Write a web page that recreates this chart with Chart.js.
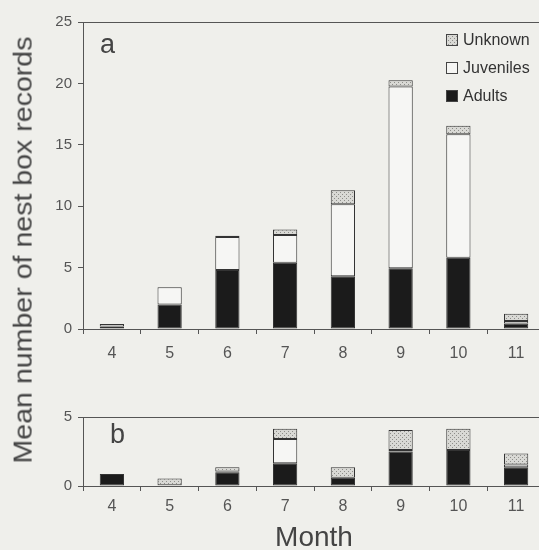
<!DOCTYPE html>
<html>
<head>
<meta charset="utf-8">
<script src="https://cdn.jsdelivr.net/npm/chart.js@4.4.1/dist/chart.umd.min.js"></script>
<style>
  html, body { margin: 0; padding: 0; background: #efefeb; overflow: hidden; }
  #wrap { position: relative; width: 539px; height: 550px; overflow: hidden; }
  #chartA { position: absolute; left: 0; top: 0; }
  #chartB { position: absolute; left: 0; top: 395px; }
  #ytitle {
    position: absolute; left: 23px; top: 250px;
    transform: translate(-50%, -50%) rotate(-90deg) scale(1.02, 0.9);
    font: 28px "Liberation Sans", Arial, sans-serif; color: #444; white-space: nowrap;
  }
</style>
</head>
<body>
<div id="wrap">
  <canvas id="chartA" width="548" height="365"></canvas>
  <canvas id="chartB" width="548" height="160"></canvas>
  <div id="ytitle">Mean number of nest box records</div>
</div>
<script>
const months = ['4', '5', '6', '7', '8', '9', '10', '11'];

// panel a
const adultsA    = [0.2, 2.0, 4.8, 5.4, 4.3, 4.95, 5.8, 0.45];
const juvenilesA = [0.2, 1.4, 2.7, 2.25, 5.85, 14.8, 10.05, 0.2];
const unknownA   = [0, 0, 0.1, 0.45, 1.15, 0.5, 0.7, 0.6];

// panel b
const adultsB    = [0.87, 0.05, 1.0, 1.65, 0.6, 2.5, 2.6, 1.35];
const juvenilesB = [0, 0, 0.05, 1.75, 0, 0.1, 0, 0.2];
const unknownB   = [0, 0.5, 0.3, 0.75, 0.75, 1.45, 1.55, 0.8];

const FONT = '"Liberation Sans", Arial, sans-serif';
const AXIS = '#555';

// stippled grey fill for "Unknown"
function stipple() {
  const c = document.createElement('canvas');
  c.width = 4; c.height = 4;
  const g = c.getContext('2d');
  g.fillStyle = '#d9d9d5';
  g.fillRect(0, 0, 4, 4);
  g.fillStyle = '#8e8e8a';
  g.fillRect(0, 0, 1, 1);
  g.fillRect(2, 2, 1, 1);
  return g.createPattern(c, 'repeat');
}
const unknownFill = stipple();

function datasets(adults, juveniles, unknown) {
  const common = { borderColor: '#333', borderWidth: 1, borderSkipped: false, barPercentage: 0.42, categoryPercentage: 1 };
  return [
    { label: 'Adults', data: adults, backgroundColor: '#1b1b1b', ...common },
    { label: 'Juveniles', data: juveniles, backgroundColor: '#f6f6f4', ...common },
    { label: 'Unknown', data: unknown, backgroundColor: unknownFill, ...common }
  ];
}

// small letter in the corner of each panel
const panelTag = {
  id: 'panelTag',
  afterDraw(chart, args, opts) {
    const { ctx, chartArea } = chart;
    ctx.save();
    ctx.font = '27px ' + FONT;
    ctx.fillStyle = '#444';
    ctx.textBaseline = 'alphabetic';
    ctx.fillText(opts.text, chartArea.left + opts.dx, chartArea.top + opts.dy);
    ctx.restore();
  }
};

// vertical legend top right, reversed order
const boxLegend = {
  id: 'boxLegend',
  afterDraw(chart, args, opts) {
    if (!opts.show) return;
    const { ctx, chartArea } = chart;
    const items = chart.data.datasets.slice().reverse();
    ctx.save();
    ctx.font = '16px ' + FONT;
    ctx.textBaseline = 'middle';
    items.forEach((ds, i) => {
      const x = chartArea.right - 99;
      const y = chartArea.top + 18 + i * 28;
      ctx.fillStyle = ds.backgroundColor;
      ctx.fillRect(x, y - 6, 12, 12);
      ctx.strokeStyle = '#444';
      ctx.lineWidth = 1;
      ctx.strokeRect(x + 0.5, y - 5.5, 11, 11);
      ctx.fillStyle = '#333';
      ctx.fillText(ds.label, x + 17, y + 1);
    });
    ctx.restore();
  }
};

function makeChart(id, ds, yMax, xHeight, tickPad, tag, legend, withTitle) {
  return new Chart(document.getElementById(id), {
    type: 'bar',
    data: { labels: months, datasets: ds },
    plugins: [panelTag, boxLegend],
    options: {
      responsive: false,
      animation: false,
      layout: { padding: { top: 22, left: 0, right: 3, bottom: 0 } },
      plugins: {
        legend: { display: false },
        tooltip: { enabled: false },
        panelTag: tag,
        boxLegend: { show: legend }
      },
      scales: {
        x: {
          stacked: true,
          offset: true,
          grid: { display: true, drawOnChartArea: false, offset: true, tickLength: 5, color: AXIS },
          border: { display: true, color: AXIS },
          ticks: { color: AXIS, font: { size: 16, family: FONT }, padding: tickPad, maxRotation: 0 },
          title: {
            display: withTitle, text: 'Month', color: '#444',
            font: { size: 28, family: FONT, lineHeight: 1 }, padding: { top: 0, bottom: 3 }
          },
          afterFit: s => { s.height = xHeight; }
        },
        xTop: {
          type: 'category',
          position: 'top',
          grid: { display: false },
          ticks: { display: false },
          border: { display: true, color: AXIS },
          afterFit: s => { s.height = 0; }
        },
        y: {
          stacked: true,
          min: 0,
          max: yMax,
          ticks: { stepSize: 5, color: AXIS, font: { size: 15, family: FONT }, padding: 6 },
          grid: { drawOnChartArea: false, tickLength: 5, color: AXIS },
          border: { display: true, color: AXIS },
          afterFit: s => { s.width = 83; }
        }
      }
    }
  });
}

makeChart('chartA', datasets(adultsA, juvenilesA, unknownA), 25, 36, 10, { text: 'a', dx: 17, dy: 31 }, true, false);
makeChart('chartB', datasets(adultsB, juvenilesB, unknownB), 5, 69, 6, { text: 'b', dx: 27, dy: 26 }, false, true);
</script>
</body>
</html>
